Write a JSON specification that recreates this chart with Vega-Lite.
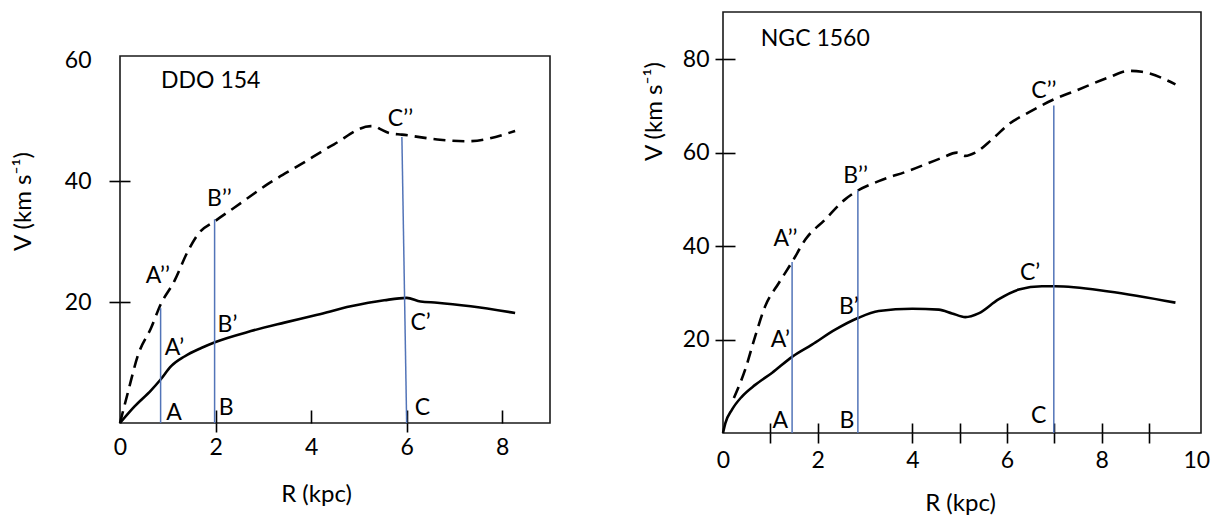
{
  "$schema": "https://vega.github.io/schema/vega-lite/v6.json",
  "background": "white",
  "padding": {"left": 10, "top": 11, "right": 0, "bottom": 0},
  "spacing": 90,
  "datasets": {
    "curves": [
      {"galaxy": "DDO 154", "kind": "solid", "R": 0, "V": 0},
      {"galaxy": "DDO 154", "kind": "solid", "R": 0.3, "V": 2.7},
      {"galaxy": "DDO 154", "kind": "solid", "R": 0.65, "V": 5.4},
      {"galaxy": "DDO 154", "kind": "solid", "R": 0.85, "V": 7.2},
      {"galaxy": "DDO 154", "kind": "solid", "R": 1.07, "V": 9.4},
      {"galaxy": "DDO 154", "kind": "solid", "R": 1.35, "V": 11.0},
      {"galaxy": "DDO 154", "kind": "solid", "R": 1.7, "V": 12.4},
      {"galaxy": "DDO 154", "kind": "solid", "R": 2.0, "V": 13.4},
      {"galaxy": "DDO 154", "kind": "solid", "R": 2.74, "V": 15.2},
      {"galaxy": "DDO 154", "kind": "solid", "R": 3.44, "V": 16.6},
      {"galaxy": "DDO 154", "kind": "solid", "R": 4.13, "V": 17.9},
      {"galaxy": "DDO 154", "kind": "solid", "R": 4.83, "V": 19.3},
      {"galaxy": "DDO 154", "kind": "solid", "R": 5.53, "V": 20.3},
      {"galaxy": "DDO 154", "kind": "solid", "R": 6.0, "V": 20.7},
      {"galaxy": "DDO 154", "kind": "solid", "R": 6.29, "V": 20.1},
      {"galaxy": "DDO 154", "kind": "solid", "R": 6.64, "V": 19.9},
      {"galaxy": "DDO 154", "kind": "solid", "R": 7.34, "V": 19.3},
      {"galaxy": "DDO 154", "kind": "solid", "R": 8.27, "V": 18.2},
      {"galaxy": "DDO 154", "kind": "dashed", "R": 0, "V": 0},
      {"galaxy": "DDO 154", "kind": "dashed", "R": 0.17, "V": 5.2},
      {"galaxy": "DDO 154", "kind": "dashed", "R": 0.38, "V": 11.3},
      {"galaxy": "DDO 154", "kind": "dashed", "R": 0.65, "V": 15.7},
      {"galaxy": "DDO 154", "kind": "dashed", "R": 0.85, "V": 19.6},
      {"galaxy": "DDO 154", "kind": "dashed", "R": 1.14, "V": 23.5},
      {"galaxy": "DDO 154", "kind": "dashed", "R": 1.42, "V": 28.4},
      {"galaxy": "DDO 154", "kind": "dashed", "R": 1.63, "V": 31.2},
      {"galaxy": "DDO 154", "kind": "dashed", "R": 1.99, "V": 33.4},
      {"galaxy": "DDO 154", "kind": "dashed", "R": 2.39, "V": 35.6},
      {"galaxy": "DDO 154", "kind": "dashed", "R": 3.09, "V": 39.5},
      {"galaxy": "DDO 154", "kind": "dashed", "R": 3.79, "V": 42.8},
      {"galaxy": "DDO 154", "kind": "dashed", "R": 4.48, "V": 46.1},
      {"galaxy": "DDO 154", "kind": "dashed", "R": 5.25, "V": 49.1},
      {"galaxy": "DDO 154", "kind": "dashed", "R": 5.32, "V": 49.1},
      {"galaxy": "DDO 154", "kind": "dashed", "R": 5.45, "V": 48.6},
      {"galaxy": "DDO 154", "kind": "dashed", "R": 5.66, "V": 47.9},
      {"galaxy": "DDO 154", "kind": "dashed", "R": 5.9, "V": 47.7},
      {"galaxy": "DDO 154", "kind": "dashed", "R": 6.64, "V": 46.9},
      {"galaxy": "DDO 154", "kind": "dashed", "R": 7.27, "V": 46.6},
      {"galaxy": "DDO 154", "kind": "dashed", "R": 8.27, "V": 48.3},
      {"galaxy": "NGC 1560", "kind": "solid", "R": 0, "V": 0},
      {"galaxy": "NGC 1560", "kind": "solid", "R": 0.05, "V": 2.1},
      {"galaxy": "NGC 1560", "kind": "solid", "R": 0.19, "V": 5.0},
      {"galaxy": "NGC 1560", "kind": "solid", "R": 0.4, "V": 7.8},
      {"galaxy": "NGC 1560", "kind": "solid", "R": 0.68, "V": 10.3},
      {"galaxy": "NGC 1560", "kind": "solid", "R": 1.04, "V": 12.9},
      {"galaxy": "NGC 1560", "kind": "solid", "R": 1.46, "V": 16.3},
      {"galaxy": "NGC 1560", "kind": "solid", "R": 1.88, "V": 18.9},
      {"galaxy": "NGC 1560", "kind": "solid", "R": 2.37, "V": 22.1},
      {"galaxy": "NGC 1560", "kind": "solid", "R": 2.85, "V": 24.6},
      {"galaxy": "NGC 1560", "kind": "solid", "R": 3.29, "V": 26.1},
      {"galaxy": "NGC 1560", "kind": "solid", "R": 4.0, "V": 26.6},
      {"galaxy": "NGC 1560", "kind": "solid", "R": 4.56, "V": 26.4},
      {"galaxy": "NGC 1560", "kind": "solid", "R": 4.84, "V": 25.6},
      {"galaxy": "NGC 1560", "kind": "solid", "R": 5.12, "V": 24.8},
      {"galaxy": "NGC 1560", "kind": "solid", "R": 5.4, "V": 25.6},
      {"galaxy": "NGC 1560", "kind": "solid", "R": 5.82, "V": 28.6},
      {"galaxy": "NGC 1560", "kind": "solid", "R": 6.25, "V": 30.7},
      {"galaxy": "NGC 1560", "kind": "solid", "R": 6.74, "V": 31.4},
      {"galaxy": "NGC 1560", "kind": "solid", "R": 7.02, "V": 31.4},
      {"galaxy": "NGC 1560", "kind": "solid", "R": 8.15, "V": 30.3},
      {"galaxy": "NGC 1560", "kind": "solid", "R": 9.56, "V": 27.9},
      {"galaxy": "NGC 1560", "kind": "dashed", "R": 0.23, "V": 7.5},
      {"galaxy": "NGC 1560", "kind": "dashed", "R": 0.47, "V": 13.6},
      {"galaxy": "NGC 1560", "kind": "dashed", "R": 0.68, "V": 20.7},
      {"galaxy": "NGC 1560", "kind": "dashed", "R": 0.89, "V": 27.1},
      {"galaxy": "NGC 1560", "kind": "dashed", "R": 1.18, "V": 32.1},
      {"galaxy": "NGC 1560", "kind": "dashed", "R": 1.46, "V": 36.6},
      {"galaxy": "NGC 1560", "kind": "dashed", "R": 1.74, "V": 41.4},
      {"galaxy": "NGC 1560", "kind": "dashed", "R": 2.16, "V": 45.7},
      {"galaxy": "NGC 1560", "kind": "dashed", "R": 2.58, "V": 50.0},
      {"galaxy": "NGC 1560", "kind": "dashed", "R": 2.85, "V": 51.9},
      {"galaxy": "NGC 1560", "kind": "dashed", "R": 3.29, "V": 53.9},
      {"galaxy": "NGC 1560", "kind": "dashed", "R": 3.92, "V": 56.1},
      {"galaxy": "NGC 1560", "kind": "dashed", "R": 4.63, "V": 58.9},
      {"galaxy": "NGC 1560", "kind": "dashed", "R": 4.94, "V": 60.0},
      {"galaxy": "NGC 1560", "kind": "dashed", "R": 5.12, "V": 59.3},
      {"galaxy": "NGC 1560", "kind": "dashed", "R": 5.33, "V": 60.0},
      {"galaxy": "NGC 1560", "kind": "dashed", "R": 5.68, "V": 62.8},
      {"galaxy": "NGC 1560", "kind": "dashed", "R": 6.04, "V": 66.1},
      {"galaxy": "NGC 1560", "kind": "dashed", "R": 6.46, "V": 68.6},
      {"galaxy": "NGC 1560", "kind": "dashed", "R": 6.99, "V": 71.4},
      {"galaxy": "NGC 1560", "kind": "dashed", "R": 7.44, "V": 73.2},
      {"galaxy": "NGC 1560", "kind": "dashed", "R": 8.15, "V": 76.1},
      {"galaxy": "NGC 1560", "kind": "dashed", "R": 8.57, "V": 77.5},
      {"galaxy": "NGC 1560", "kind": "dashed", "R": 8.85, "V": 77.3},
      {"galaxy": "NGC 1560", "kind": "dashed", "R": 9.56, "V": 74.6}
    ],
    "guides": [
      {"galaxy": "DDO 154", "point": "A", "Rtop": 0.85, "Rbase": 0.85, "V": 19.0},
      {"galaxy": "DDO 154", "point": "B", "Rtop": 1.98, "Rbase": 1.98, "V": 33.7},
      {"galaxy": "DDO 154", "point": "C", "Rtop": 5.9, "Rbase": 6.0, "V": 47.3},
      {"galaxy": "NGC 1560", "point": "A", "Rtop": 1.46, "Rbase": 1.46, "V": 36.6},
      {"galaxy": "NGC 1560", "point": "B", "Rtop": 2.85, "Rbase": 2.85, "V": 51.9},
      {"galaxy": "NGC 1560", "point": "C", "Rtop": 6.99, "Rbase": 6.99, "V": 70.1}
    ],
    "labels": [
      {"galaxy": "DDO 154", "label": "DDO 154", "R": 1.9, "V": 56.5},
      {"galaxy": "DDO 154", "label": "A’’", "R": 0.79, "V": 24.3},
      {"galaxy": "DDO 154", "label": "A’", "R": 1.14, "V": 12.4},
      {"galaxy": "DDO 154", "label": "A", "R": 1.13, "V": 1.7},
      {"galaxy": "DDO 154", "label": "B’’", "R": 2.08, "V": 37.0},
      {"galaxy": "DDO 154", "label": "B’", "R": 2.25, "V": 16.2},
      {"galaxy": "DDO 154", "label": "B", "R": 2.22, "V": 2.5},
      {"galaxy": "DDO 154", "label": "C’’", "R": 5.87, "V": 50.2},
      {"galaxy": "DDO 154", "label": "C’", "R": 6.29, "V": 16.5},
      {"galaxy": "DDO 154", "label": "C", "R": 6.33, "V": 2.5},
      {"galaxy": "NGC 1560", "label": "NGC 1560", "R": 1.95, "V": 84.3},
      {"galaxy": "NGC 1560", "label": "A’’", "R": 1.32, "V": 41.6},
      {"galaxy": "NGC 1560", "label": "A’", "R": 1.21, "V": 19.8},
      {"galaxy": "NGC 1560", "label": "A", "R": 1.21, "V": 2.5},
      {"galaxy": "NGC 1560", "label": "B’’", "R": 2.8, "V": 55.0},
      {"galaxy": "NGC 1560", "label": "B’", "R": 2.66, "V": 27.0},
      {"galaxy": "NGC 1560", "label": "B", "R": 2.62, "V": 2.5},
      {"galaxy": "NGC 1560", "label": "C’’", "R": 6.78, "V": 73.2},
      {"galaxy": "NGC 1560", "label": "C’", "R": 6.49, "V": 34.3},
      {"galaxy": "NGC 1560", "label": "C", "R": 6.67, "V": 3.6}
    ]
  },
  "hconcat": [
    {
      "spacing": 0,
      "vconcat": [
        {
          "width": 430,
          "height": 36,
          "data": {"values": []},
          "mark": {"type": "point", "opacity": 0},
          "view": {"stroke": null}
        },
        {
          "width": 430,
          "height": 367,
          "resolve": {"axis": {"x": "independent", "y": "independent"}},
          "layer": [
            {
              "data": {"name": "curves"},
              "transform": [{"filter": "datum.galaxy === 'DDO 154' && datum.kind === 'solid'"}],
              "mark": {"type": "line", "color": "black", "strokeWidth": 2.6, "interpolate": "monotone"},
              "encoding": {
                "x": {
                  "field": "R", "type": "quantitative",
                  "scale": {"domain": [0, 9], "nice": false},
                  "axis": {
                    "orient": "bottom", "values": [0, 2, 4, 6, 8], "ticks": false, "tickSize": 0,
                    "labelPadding": 13, "title": "R (kpc)",
                    "titleX": 196, "titleY": 71, "titleBaseline": "middle",
                    "encode": {"labels": {"update": {"dx": {"signal": "datum.value === 0 ? -15 : 0"}}}}
                  }
                },
                "y": {
                  "field": "V", "type": "quantitative",
                  "scale": {"domain": [0, 60.7], "nice": false},
                  "axis": {
                    "orient": "left", "values": [20, 40, 60], "ticks": false, "tickSize": 0,
                    "labelPadding": 29, "title": "V (km s⁻¹)",
                    "titleX": -97, "titleY": 145, "titleBaseline": "middle"
                  }
                }
              }
            },
            {
              "data": {"name": "curves"},
              "transform": [{"filter": "datum.galaxy === 'DDO 154' && datum.kind === 'dashed'"}],
              "mark": {"type": "line", "color": "black", "strokeWidth": 2.6, "strokeDash": [12, 7], "interpolate": "monotone"},
              "encoding": {
                "x": {
                  "field": "R", "type": "quantitative",
                  "scale": {"domain": [0, 9], "nice": false},
                  "axis": {"orient": "bottom", "values": [2, 6], "tickSize": 9, "labels": false, "title": null}
                },
                "y": {
                  "field": "V", "type": "quantitative",
                  "scale": {"domain": [0, 60.7], "nice": false},
                  "axis": {"orient": "left", "values": [20, 40], "tickSize": 11, "labels": false, "title": null}
                }
              }
            },
            {
              "data": {"name": "guides"},
              "transform": [{"filter": "datum.galaxy === 'DDO 154'"}],
              "mark": {"type": "rule", "color": "#5274b8", "strokeWidth": 1.5},
              "encoding": {
                "x": {
                  "field": "Rtop", "type": "quantitative",
                  "scale": {"domain": [0, 9], "nice": false},
                  "axis": {"orient": "bottom", "values": [2, 4, 6, 8], "tickSize": -13, "labels": false, "title": null}
                },
                "y": {
                  "field": "V", "type": "quantitative",
                  "scale": {"domain": [0, 60.7], "nice": false},
                  "axis": {"orient": "left", "values": [20, 40], "tickSize": -10, "labels": false, "title": null}
                },
                "x2": {"field": "Rbase"},
                "y2": {"datum": 0}
              }
            },
            {
              "data": {"name": "labels"},
              "transform": [{"filter": "datum.galaxy === 'DDO 154'"}],
              "mark": {"type": "text", "font": "Lato", "fontSize": 23, "color": "black", "align": "center", "baseline": "middle"},
              "encoding": {
                "x": {"field": "R", "type": "quantitative", "scale": {"domain": [0, 9], "nice": false}, "axis": null},
                "y": {"field": "V", "type": "quantitative", "scale": {"domain": [0, 60.7], "nice": false}, "axis": null},
                "text": {"field": "label"}
              }
            }
          ]
        }
      ]
    },
    {
      "width": 478,
      "height": 421,
      "resolve": {"axis": {"x": "independent", "y": "independent"}},
      "layer": [
        {
          "data": {"name": "curves"},
          "transform": [{"filter": "datum.galaxy === 'NGC 1560' && datum.kind === 'solid'"}],
          "mark": {"type": "line", "color": "black", "strokeWidth": 2.6, "interpolate": "monotone"},
          "encoding": {
            "x": {
              "field": "R", "type": "quantitative",
              "scale": {"domain": [0, 10.1], "nice": false},
              "axis": {
                "orient": "bottom", "values": [0, 2, 4, 6, 8, 10], "ticks": false, "tickSize": 0,
                "labelPadding": 16, "title": "R (kpc)",
                "titleX": 237, "titleY": 70, "titleBaseline": "middle",
                "encode": {"labels": {"update": {
                  "dx": {"signal": "datum.value === 0 ? -14 : 0"},
                  "dy": {"signal": "datum.value === 0 ? -3 : 0"}
                }}}
              }
            },
            "y": {
              "field": "V", "type": "quantitative",
              "scale": {"domain": [0, 90.1], "nice": false},
              "axis": {
                "orient": "left", "values": [20, 40, 60, 80], "ticks": false, "tickSize": 0,
                "labelPadding": 14, "title": "V (km s⁻¹)",
                "titleX": -69, "titleY": 99, "titleBaseline": "middle"
              }
            }
          }
        },
        {
          "data": {"name": "curves"},
          "transform": [{"filter": "datum.galaxy === 'NGC 1560' && datum.kind === 'dashed'"}],
          "mark": {"type": "line", "color": "black", "strokeWidth": 2.6, "strokeDash": [12, 7], "interpolate": "monotone"},
          "encoding": {
            "x": {
              "field": "R", "type": "quantitative",
              "scale": {"domain": [0, 10.1], "nice": false},
              "axis": {"orient": "bottom", "values": [1, 2, 4, 5, 6, 7, 8, 9], "tickSize": 10, "labels": false, "title": null}
            },
            "y": {
              "field": "V", "type": "quantitative",
              "scale": {"domain": [0, 90.1], "nice": false},
              "axis": {"orient": "left", "values": [20, 40, 60, 80], "tickSize": 8, "labels": false, "title": null}
            }
          }
        },
        {
          "data": {"name": "guides"},
          "transform": [{"filter": "datum.galaxy === 'NGC 1560'"}],
          "mark": {"type": "rule", "color": "#5274b8", "strokeWidth": 1.5},
          "encoding": {
            "x": {
              "field": "Rtop", "type": "quantitative",
              "scale": {"domain": [0, 10.1], "nice": false},
              "axis": {"orient": "bottom", "values": [1, 2, 4, 5, 6, 7, 8, 9], "tickSize": -10, "labels": false, "title": null}
            },
            "y": {
              "field": "V", "type": "quantitative",
              "scale": {"domain": [0, 90.1], "nice": false},
              "axis": {"orient": "left", "values": [20, 40, 60, 80], "tickSize": -12, "labels": false, "title": null}
            },
            "x2": {"field": "Rbase"},
            "y2": {"datum": 0}
          }
        },
        {
          "data": {"name": "labels"},
          "transform": [{"filter": "datum.galaxy === 'NGC 1560'"}],
          "mark": {"type": "text", "font": "Lato", "fontSize": 23, "color": "black", "align": "center", "baseline": "middle"},
          "encoding": {
            "x": {"field": "R", "type": "quantitative", "scale": {"domain": [0, 10.1], "nice": false}, "axis": null},
            "y": {"field": "V", "type": "quantitative", "scale": {"domain": [0, 90.1], "nice": false}, "axis": null},
            "text": {"field": "label"}
          }
        }
      ]
    }
  ],
  "config": {
    "view": {"stroke": "#1a1a1a", "strokeWidth": 1.6},
    "axis": {
      "domain": false,
      "grid": false,
      "labelFont": "Lato",
      "labelFontSize": 23,
      "labelColor": "black",
      "tickColor": "black",
      "tickWidth": 1.6,
      "titleFont": "Lato",
      "titleFontSize": 24,
      "titleFontWeight": "normal",
      "titleColor": "black",
      "labelFlush": false,
      "labelOverlap": false
    },
    "title": {"font": "Lato"}
  }
}
